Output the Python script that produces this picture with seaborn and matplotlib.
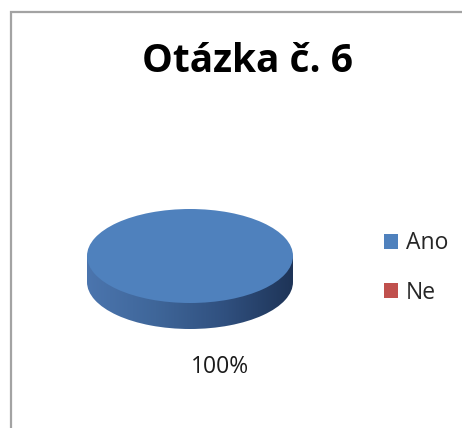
import matplotlib
matplotlib.use("Agg")
from matplotlib import pyplot as plt
from matplotlib.patches import Rectangle
from matplotlib.colors import LinearSegmentedColormap
import seaborn as sns
import numpy as np

title = "Otázka č. 6"
labels = ["Ano", "Ne"]
values = [100, 0]
colors = ["#4f81bd", "#c0504d"]

sns.set_theme(style="white")
plt.rcParams["font.family"] = ["Open Sans", "DejaVu Sans"]

W, H = 462, 428
fig = plt.figure(figsize=(W / 100, H / 100), dpi=100)
fig.patch.set_facecolor("white")

# pie geometry in pixels (centre, half axes) and depth of the 3d side
cx, cy = 190, 172
rx, ry = 103, 47
depth = 26 / ry

xl = (-1.3, 1.3)
yl = (-2.6, 1.3)
ax = fig.add_axes([(cx + xl[0] * rx) / W, (cy + yl[0] * ry) / H,
                   (xl[1] - xl[0]) * rx / W, (yl[1] - yl[0]) * ry / H])

# side of the disc: bottom pie + band, filled with a horizontal gradient
side_cmap = LinearSegmentedColormap.from_list(
    "side", ["#4b75ae", "#3f6699", "#30507f", "#1e3457"])
grad = np.linspace(0, 1, 256).reshape(1, -1)
low, _ = ax.pie(values, radius=1, center=(0, -depth), startangle=97,
                wedgeprops=dict(facecolor="none", edgecolor="none"))
band = Rectangle((-1, -depth), 2, depth, facecolor="none", edgecolor="none")
ax.add_patch(band)
for clip in [low[0], band]:
    im = ax.imshow(grad, cmap=side_cmap, extent=[-1, 1, -depth - 1, 0],
                   aspect="auto", interpolation="bilinear")
    im.set_clip_path(clip)

# top face
wedges, _, autotexts = ax.pie(
    values, colors=colors, radius=1, startangle=97,
    autopct=lambda p: f"{p:.0f}%" if p > 0 else "",
    pctdistance=2.378,
    wedgeprops=dict(edgecolor="none"),
    textprops=dict(fontsize=16.5, color="#1a1a1a"),
)

ax.set_aspect("auto")
ax.set_xlim(*xl)
ax.set_ylim(*yl)
ax.axis("off")

fig.text(247 / W, 1 - 62 / H, title, ha="center", va="center",
         fontsize=28, fontweight="bold", color="black")

fig.legend(wedges, labels, loc="center left",
           bbox_to_anchor=(363 / W, 1 - 268 / H), frameon=False,
           fontsize=16.5, handlelength=0.62, handleheight=0.62,
           handletextpad=0.35, labelspacing=1.1)

fig.add_artist(Rectangle((11 / W, -0.05), 1.1, (1 - 12 / H) + 0.05,
                         transform=fig.transFigure, fill=False,
                         edgecolor="#a3a3a3", linewidth=1.6))

fig.savefig("out.png", dpi=100)
